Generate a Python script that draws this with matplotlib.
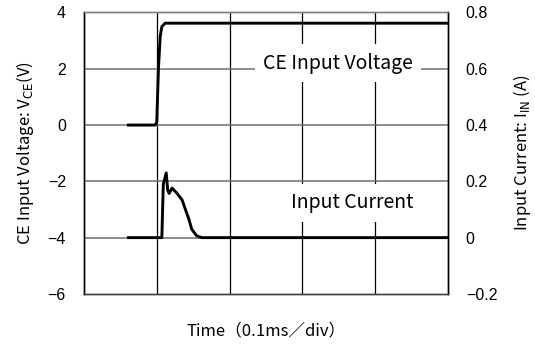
import matplotlib
matplotlib.use("Agg")
import matplotlib.pyplot as plt

# time in divisions (0.1 ms/div)
time_v = [0.61, 0.978, 1.0, 1.023, 1.047, 1.07, 1.116, 5.0]
voltage = [0.0, 0.0, 0.1, 2.0, 3.14, 3.5, 3.62, 3.62]

time_i = [0.61, 1.07, 1.09, 1.13, 1.15, 1.17, 1.21, 1.28, 1.35, 1.39, 1.44, 1.48, 1.55, 1.62, 5.0]
current = [0.0, 0.0, 0.19, 0.23, 0.17, 0.157, 0.176, 0.157, 0.133, 0.103, 0.067, 0.030, 0.006, 0.0, 0.0]

left_ticks = [-6, -4, -2, 0, 2, 4]
right_ticks = [-0.2, 0, 0.2, 0.4, 0.6, 0.8]
right_labels = ["\u22120.2", "0", "0.2", "0.4", "0.6", "0.8"]
x_grid = [0, 1, 2, 3, 4, 5]

JP = ["Noto Sans CJK JP", "DejaVu Sans"]
NUM = ["Liberation Sans", "DejaVu Sans"]

fig = plt.figure(figsize=(5.35, 3.47), dpi=100)
ax = fig.add_axes([0.157, 0.153, 0.680, 0.811])
ax.set_xlim(0, 5)
ax.set_ylim(-6, 4)
ax2 = ax.twinx()
ax2.set_ylim(-0.2, 0.8)

ax.set_xticks(x_grid)
ax.set_xticklabels([])
ax.tick_params(axis="x", length=0)
ax.set_yticks(left_ticks)
ax.set_yticklabels([str(t).replace("-", "\u2212") for t in left_ticks], fontfamily=NUM, fontsize=11.5)
ax.tick_params(axis="y", length=0, pad=13)
ax2.set_yticks(right_ticks)
ax2.set_yticklabels(right_labels, fontfamily=NUM, fontsize=11.5)
ax2.tick_params(axis="y", length=0, pad=13)

for x in x_grid[1:-1]:
    ax.axvline(x, color="black", lw=0.9, zorder=1)
for y in left_ticks[1:-1]:
    ax.axhline(y, color="#707070", lw=1.1, zorder=1)

for a in (ax, ax2):
    a.spines["top"].set_color("#808080")
    a.spines["bottom"].set_color("#404040")
    a.spines["left"].set_color("black")
    a.spines["right"].set_color("black")
    for s in a.spines.values():
        s.set_linewidth(1.0)

ax.plot(time_v, voltage, color="black", lw=2.1, zorder=3)
ax2.plot(time_i, current, color="black", lw=2.1, zorder=3)

ax.text(3.49, 2.0, "CE Input Voltage", fontfamily=JP, fontsize=14, ha="center", va="baseline",
        zorder=4, bbox=dict(facecolor="white", edgecolor="none", pad=6))
ax.text(3.69, -2.96, "Input Current", fontfamily=JP, fontsize=14, ha="center", va="baseline",
        zorder=4, bbox=dict(facecolor="white", edgecolor="none", pad=6))

ax.set_xlabel("Time\uff080.1ms\uff0fdiv\uff09", fontfamily=JP, fontsize=12, labelpad=17)
ax.set_ylabel("CE Input Voltage: V$_{\\mathrm{CE}}$(V)", fontfamily=JP, fontsize=12, labelpad=8)
ax2.set_ylabel("Input Current: I$_{\\mathrm{IN}}$ (A)", fontfamily=JP, fontsize=12, labelpad=10)

fig.savefig("out.png", dpi=100)
